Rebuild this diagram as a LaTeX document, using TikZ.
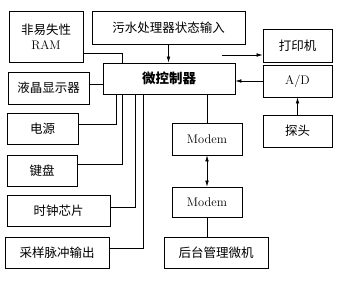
\documentclass[tikz,border=0pt]{standalone}
\usepackage{fontspec}
\newfontfamily\cjk{Noto Sans CJK SC}
\usepackage{tikz}
\usetikzlibrary{positioning,calc,arrows.meta}
\tikzset{
  blk/.style={draw,line width=0.8pt,rectangle,inner sep=0pt,align=center,
    font=\fontsize{12.5}{15}\selectfont},
  wire/.style={line width=0.6pt},
  tip/.style={wire,-{Latex[length=6pt,width=3.6pt]}},
  twotip/.style={wire,{Latex[length=6pt,width=3.6pt]}-{Latex[length=6pt,width=3.6pt]}}
}
% box from its corners (left,top,right,bottom) in pixel units
\newcommand{\blkat}[6]{%
  \node[blk,minimum width=#4-#2,minimum height=#5-#3] (#1) at ({(#2+#4)/2},{(#3+#5)/2}) {#6};
}

\begin{document}
\begin{tikzpicture}[x=1pt,y=-1pt]
\useasboundingbox (0,0) rectangle (339,292);
\blkat{ram}{9}{11}{83}{62}{{\cjk 非易失性}\\RAM}
\blkat{status}{92}{11}{245}{44}{\cjk 污水处理器状态输入}
\blkat{mcu}{103}{63}{235}{94}{\cjk\bfseries\fontsize{13.5}{15}\selectfont 微控制器}
\blkat{lcd}{8}{72}{89}{104}{\cjk 液晶显示器}
\blkat{power}{7}{113}{78}{144}{\cjk 电源}
\blkat{keyb}{7}{155}{77}{186}{\cjk 键盘}
\blkat{clock}{7}{195}{110}{226}{\cjk 时钟芯片}
\blkat{sample}{5}{237}{109}{268}{\cjk 采样脉冲输出}
\blkat{printer}{263}{29}{332}{62}{\cjk 打印机}
\blkat{ad}{263}{65}{332}{97}{A/D}
\blkat{probe}{263}{115}{332}{147}{\cjk 探头}
\blkat{modemA}{172}{123}{242}{155}{Modem}
\blkat{modemB}{172}{187}{242}{217}{Modem}
\blkat{host}{164}{237}{268}{268}{\cjk 后台管理微机}
\coordinate (prt) at (222,55);

% left side
\draw[wire] ([yshift=-16.5pt]ram.east) -| ([xshift=20pt]mcu.north west);
\draw[tip] (status.south) -- (status.south |- mcu.north);
\draw[wire] ([yshift=3.5pt]lcd.east) -- ([yshift=3.5pt]lcd.east -| mcu.west);
\draw[wire] ([yshift=4.5pt]power.east) -| ([xshift=14pt]mcu.south west);
\draw[wire] ([yshift=6.5pt]keyb.east) -| ([xshift=20pt]mcu.south west);
\draw[wire] ([yshift=3.5pt]clock.east) -| ([xshift=33pt]mcu.south west);
\draw[wire] ([yshift=4.5pt]sample.east) -| ([xshift=41pt]mcu.south west);

% right side
\draw[tip] (prt) -- (prt -| printer.west);
\draw[tip] (ad.west) -- (ad.west -| mcu.east);
\draw[tip] (probe.north) -- (ad.south);

% modem link
\draw[wire] (modemA.north |- mcu.south) -- (modemA.north);
\draw[twotip] (modemA.south) -- (modemB.north);
\draw[wire] (modemB.south) -- (modemB.south |- host.north);
\end{tikzpicture}
\end{document}
